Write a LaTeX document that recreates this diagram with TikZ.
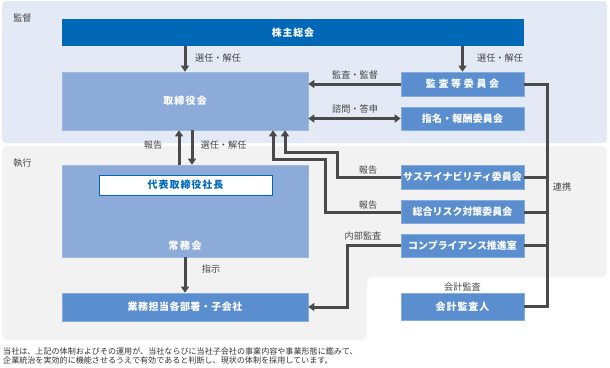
\documentclass[tikz,border=0pt]{standalone}
\usepackage{fontspec}
\usetikzlibrary{arrows.meta}
\newfontfamily\jp{Noto Sans CJK JP}
\definecolor{panelblue}{HTML}{E3E9F5}
\definecolor{panelgray}{HTML}{F2F2F2}
\definecolor{darkblue}{HTML}{0068B7}
\definecolor{midblue}{HTML}{5A8ECE}
\definecolor{midborder}{HTML}{86ACDD}
\definecolor{lightblue}{HTML}{8DABD9}
\definecolor{linegray}{HTML}{4A4A4A}
\definecolor{labgray}{HTML}{454545}
\definecolor{notegray}{HTML}{333333}
\newcommand{\lsp}[2]{{\addfontfeature{LetterSpace=#1}#2}}
\tikzset{
  boxtext/.style={text=white, font=\jp\bfseries\fontsize{10}{12}\selectfont, inner sep=0pt},
  mbox/.style={boxtext, fill=midblue, draw=midborder, line width=0.6bp, minimum width=123bp},
  lbox/.style={boxtext, fill=lightblue, draw=lightblue!85!white, line width=0.6bp, minimum width=246bp},
  lab/.style={text=labgray, font=\jp\fontsize{9.2}{11}\selectfont, inner sep=0pt},
  arr/.style={draw=linegray, line width=3bp, -{Triangle[width=8bp,length=6bp]}},
  dbl/.style={draw=linegray, line width=3bp, {Triangle[width=8bp,length=6bp]}-{Triangle[width=8bp,length=6bp]}},
  ln/.style={draw=linegray, line width=3bp},
}
\begin{document}
\begin{tikzpicture}[x=1bp,y=-1bp]
\useasboundingbox (0,0) rectangle (610,367);
% panels
\fill[panelblue, rounded corners=4bp] (2,1) rectangle (607,143);
\fill[panelgray, rounded corners=5bp] (2,146) -- (607,146) -- (607,277) -- (367,277) -- (367,340) -- (2,340) -- cycle;
\node[lab] (lkan) at (22.5,18) {監督};
\node[lab] (lshi) at (22.5,163) {執行};
% boxes
\node[boxtext, fill=darkblue, minimum width=462bp, minimum height=27bp] (kabu) at (293,32.5) {\lsp{8}{株主総会}};
\node[lbox, minimum height=58bp] (tori) at (185,101) {\lsp{12}{取締役会}};
\node[mbox, minimum height=24bp] (kansa) at (462.5,84) {\lsp{27}{監査等委員会}};
\node[mbox, minimum height=23bp] (shimei) at (462.5,118.5) {\lsp{2}{指名・報酬委員会}};
\node[lbox, minimum height=92bp] (jomu) at (185,211) {};
\node[boxtext] (jomut) at (185,246) {\lsp{17}{常務会}};
\node[boxtext, text=darkblue, fill=white, draw=darkblue, line width=0.8bp, minimum width=173bp, minimum height=20bp] (daihyo) at (185.5,185) {\lsp{10}{代表取締役社長}};
\node[boxtext, fill=midblue, draw=midborder, line width=0.6bp, minimum width=246bp, minimum height=28bp] (gyomu) at (185,307) {\lsp{5}{業務担当各部署・子会社}};
\node[mbox, minimum height=24bp] (sus) at (462.5,177) {サステイナビリティ委員会};
\node[mbox, minimum height=23bp] (risk) at (462.5,212) {総合リスク対策委員会};
\node[mbox, minimum height=23bp] (comp) at (462.5,245.5) {コンプライアンス推進室};
\node[mbox, minimum height=27bp] (kaikei) at (462.5,306.5) {\lsp{10}{会計監査人}};
% coordinates
\coordinate (s1) at (337,152);
\coordinate (r1) at (325,159);
\coordinate (c1) at (347,307);
\coordinate (rk) at (547,0);
% connectors
\draw[arr] (tori.north |- kabu.south) -- (tori.north);
\draw[arr] (kansa.north |- kabu.south) -- (kansa.north);
\draw[arr] (kansa.west) -- (tori.east |- kansa.west);
\draw[dbl] (shimei.west) -- (tori.east |- shimei.west);
\draw[arr] ([xshift=-6bp]jomu.north) -- ([xshift=-6bp]tori.south);
\draw[arr] ([xshift=7bp]tori.south) -- ([xshift=7bp]jomu.north);
\draw[arr] (sus.west) -| (s1) -| ([xshift=100bp]tori.south);
\draw[arr] (risk.west) -| (r1) -| ([xshift=88bp]tori.south);
\draw[arr] (comp.west) -| (c1) -- (gyomu.east);
\draw[arr] (jomu.south) -- (gyomu.north);
\draw[ln] (kansa.east) -- (kansa.east -| rk) -- (kaikei.east -| rk) -- (kaikei.east);
\draw[ln] (sus.east) -- (sus.east -| rk);
\draw[ln] (risk.east) -- (risk.east -| rk);
\draw[ln] (comp.east) -- (comp.east -| rk);
% labels
\node[lab] (l1) at (218,58) {選任・解任};
\node[lab] (l2) at (500,58) {選任・解任};
\node[lab] (l3) at (355,75) {監査・監督};
\node[lab] (l4) at (355,109) {諮問・答申};
\node[lab] (l5) at (153,145) {報告};
\node[lab] (l6) at (223.5,145) {選任・解任};
\node[lab] (l7) at (368,170) {報告};
\node[lab] (l8) at (368,205) {報告};
\node[lab] (l9) at (363,236) {内部監査};
\node[lab] (l10) at (211,269) {指示};
\node[lab] (l11) at (462.5,287) {会計監査};
\node[lab] (l12) at (562,187) {連携};
% note
\node[anchor=north west, align=left, inner sep=0pt, text=notegray, font=\jp\fontsize{8.1}{10}\selectfont] (note) at (3,347) {当社は、上記の体制およびその運用が、当社ならびに当社子会社の事業内容や事業形態に鑑みて、\\企業統治を実効的に機能させるうえで有効であると判断し、現状の体制を採用しています。};
\end{tikzpicture}
\end{document}
